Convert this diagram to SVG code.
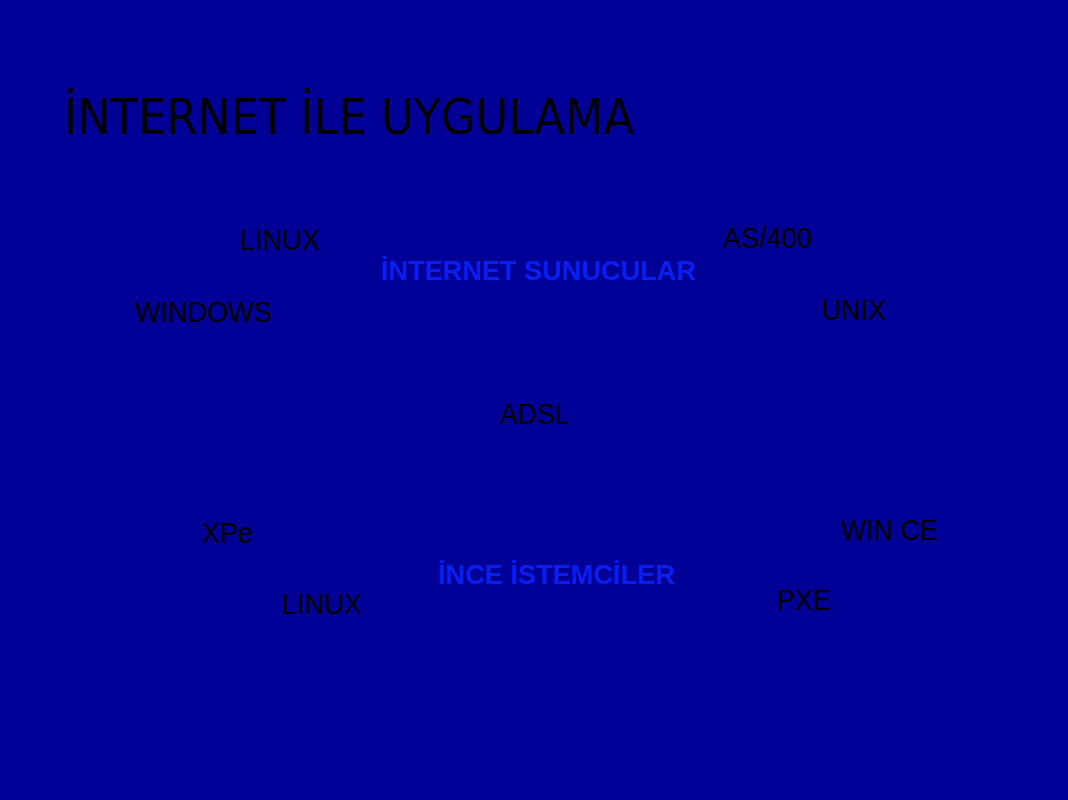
<svg xmlns="http://www.w3.org/2000/svg" width="1068" height="800" viewBox="0 0 1068 800">
<style>
.t{font-family:"DejaVu Sans Condensed","DejaVu Sans",sans-serif;font-size:49px;fill:#000}
.l{font-family:"Liberation Sans",Arial,sans-serif;font-size:29px;fill:#000}
.h{font-family:"Liberation Sans",Arial,sans-serif;font-size:28px;font-weight:bold;fill:#0A1EF0}
</style>
<rect x="0" y="0" width="1068" height="800" fill="#000096"/>
<text class="t" x="64" y="134" textLength="570" lengthAdjust="spacingAndGlyphs">İNTERNET İLE UYGULAMA</text>
<g id="servers">
<text class="h" x="381" y="280" textLength="315" lengthAdjust="spacingAndGlyphs">İNTERNET SUNUCULAR</text>
<text class="l" x="240" y="250" textLength="80" lengthAdjust="spacingAndGlyphs">LINUX</text>
<text class="l" x="135" y="322" textLength="137" lengthAdjust="spacingAndGlyphs">WINDOWS</text>
<text class="l" x="723" y="248" textLength="89" lengthAdjust="spacingAndGlyphs">AS/400</text>
<text class="l" x="822" y="320" textLength="64" lengthAdjust="spacingAndGlyphs">UNIX</text>
</g>
<g id="adsl">
<text class="l" x="500" y="424" textLength="70" lengthAdjust="spacingAndGlyphs">ADSL</text>
</g>
<g id="clients">
<text class="h" x="438" y="584" textLength="237" lengthAdjust="spacingAndGlyphs">İNCE İSTEMCİLER</text>
<text class="l" x="202" y="543" textLength="51" lengthAdjust="spacingAndGlyphs">XPe</text>
<text class="l" x="841" y="540" textLength="97" lengthAdjust="spacingAndGlyphs">WIN CE</text>
<text class="l" x="777" y="610" textLength="54" lengthAdjust="spacingAndGlyphs">PXE</text>
<text class="l" x="282" y="614" textLength="80" lengthAdjust="spacingAndGlyphs">LINUX</text>
</g>
</svg>
